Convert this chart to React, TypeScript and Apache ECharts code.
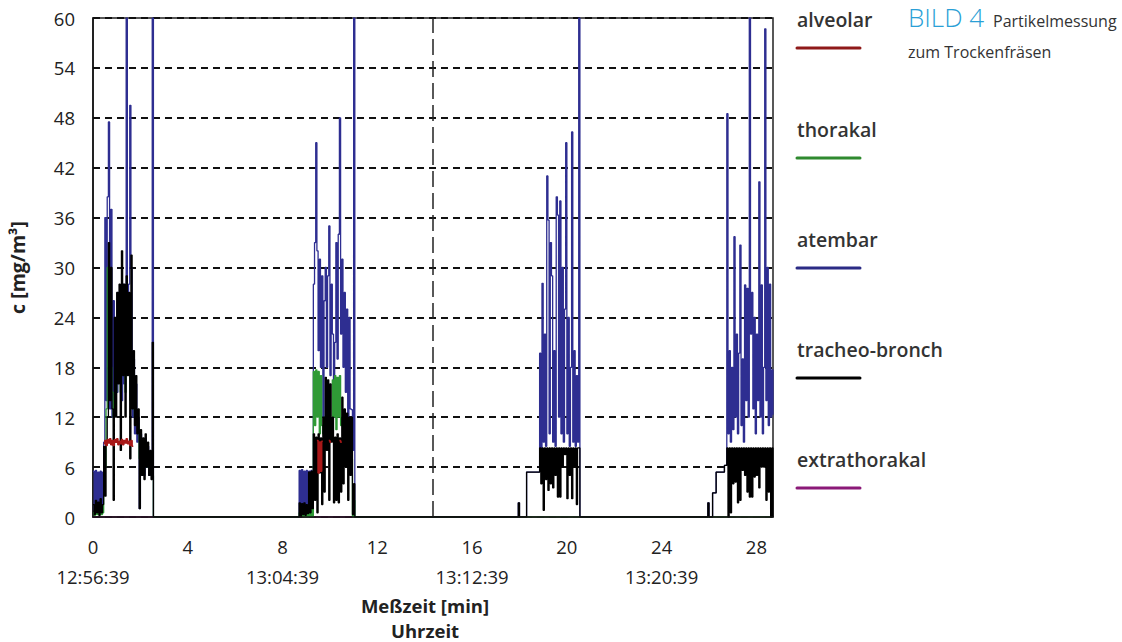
import { useEffect, useRef } from 'react';
import * as echarts from 'echarts';

// ---------- labels ----------
const seriesNames = ['alveolar', 'thorakal', 'atembar', 'tracheo-bronch', 'extrathorakal'];
const seriesColors = ['#a81818', '#2f9a36', '#2e2e91', '#000000', '#8a1f7c'];
const legendLineColors = ['#8f1a1a', '#2f8a2f', '#2b2b85', '#000000', '#8b1a78'];

const clockTickMinutes = [0, 8, 16, 24];
const clockTickLabels = ['12:56:39', '13:04:39', '13:12:39', '13:20:39'];
const sessionBreakMinute = 14.35;

const titleMain = 'BILD 4';
const titleSub1 = 'Partikelmessung';
const titleSub2 = 'zum Trockenfräsen';
const yAxisName = 'c [mg/m³]';
const xAxisName = 'Meßzeit [min]';
const clockAxisName = 'Uhrzeit';

// ---------- data: burst 1 ----------
const burst1Times = [0, 0.05, 0.1, 0.15, 0.2, 0.25, 0.3, 0.35, 0.4, 0.45, 0.5, 0.55, 0.6, 0.65, 0.7, 0.75, 0.8, 0.85, 0.9, 0.95,
  1, 1.05, 1.1, 1.15, 1.2, 1.25, 1.3, 1.35, 1.4, 1.45, 1.5, 1.55, 1.6, 1.65, 1.7, 1.75, 1.8, 1.85, 1.9, 1.95,
  2, 2.05, 2.1, 2.15, 2.2, 2.25, 2.3, 2.35, 2.4, 2.45, 2.5, 2.55];
const burst1Atembar = [5.5, 0.8, 5.6, 1.2, 5.4, 0.6, 5.5, 1.0, 5.4, 9, 36, 14, 38.5, 47.5, 13, 37, 12, 26, 12.5, 24,
  15, 27, 18, 26, 14, 28, 16, 27, 60, 20, 28, 49.5, 30, 12, 19, 10, 16, 9, 12, 1,
  10, 5, 9, 5, 9.5, 6, 8.5, 5, 7.5, 5, 60, 0];
const burst1Tracheo = [1.5, 0.3, 2.0, 0.5, 1.8, 0.2, 2.2, 0.5, 1.5, 8.5, 2.5, 9, 12, 33, 14, 30, 13, 2, 24, 12,
  27, 16, 28, 8, 32, 17, 28, 12, 29, 17, 27, 7, 31.5, 13, 20, 11, 17, 10, 13, 1,
  10.5, 5, 9.5, 4.5, 10, 6, 9, 5, 8, 4.5, 21, 0];
const burst1Thorakal = [0.5, 0.2, 0.6, 0.3, 0.5, 0.2, 0.6, 0.3, 0.5, 5, 6, 13, 30, 18, 20, 18, 15, 12, 14, 15,
  18, 18, 18, 15, 18.5, 19, 19, 15, 19, 19, 18, 14, 14, 14, 13, 12, 12, 11, 11, 7,
  7, 6, 6, 6, 7, 7, 6, 6, 5.5, 5.5, 5, 0];
const burst1Alveolar = [null, null, null, null, null, null, null, null, null, 8.8, 9.2, 8.6, 9.3, 8.9, 9.4, 8.7, 9.2, 8.6, 9.3, 9.0,
  9.4, 8.7, 9.1, 8.8, 9.3, 8.7, 9.2, 8.9, 9.4, 8.8, 9.1, 8.6, 9.2, 8.5, null, null, null, null, null, null,
  null, null, null, null, null, null, null, null, null, null, null, null];

// ---------- data: burst 2 ----------
const burst2Times = [8.7, 8.75, 8.8, 8.85, 8.9, 8.95, 9, 9.05, 9.1, 9.15, 9.2, 9.25, 9.3, 9.35, 9.4, 9.45, 9.5, 9.55, 9.6, 9.65,
  9.7, 9.75, 9.8, 9.85, 9.9, 9.95, 10, 10.05, 10.1, 10.15, 10.2, 10.25, 10.3, 10.35, 10.4, 10.45, 10.5, 10.55, 10.6, 10.65,
  10.7, 10.75, 10.8, 10.85, 10.9, 10.95, 11, 11.05];
const burst2Atembar = [5.6, 0.5, 5.7, 1.0, 5.5, 0.8, 5.6, 1.2, 5.5, 2.0, 5.6, 3.0, 28, 33, 45, 32, 20, 31, 18, 29,
  12, 26, 30, 18, 29, 35, 17, 28, 22, 12, 21, 33, 19, 34, 48, 22, 31, 18, 27, 15,
  25, 12, 24, 13, 12.9, 8, 60, 0];
const burst2Tracheo = [1.7, 0, 1.6, 0.3, 1.7, 0.2, 1.5, 0.4, 5.4, 0.5, 5.5, 1.0, 10, 2, 9.6, 0.5, 10, 5.3, 9.5, 1.5,
  12, 3, 16.8, 8, 16.5, 2, 16, 9, 12, 1.7, 9.6, 2, 10, 1.7, 9.5, 3, 14.4, 4, 13, 6,
  12.5, 2, 12, 5, 12, 0.3, 4, 0];
const burst2Thorakal = [0.5, 0, 0.5, 0, 0.5, 0, 0.5, 0, 1, 0, 1, 0, 17.5, 11, 17.7, 12, 17.5, 10, 17, 11,
  10, 12, 12, 10, 11, 12, 10, 11, 16.5, 12, 17, 10.5, 16.8, 12, 17, 11, 12, 9, 10, 8,
  9, 7, 8, 6, 7, 0, 2, 0];
const burst2Alveolar = [null, null, null, null, null, null, null, null, null, null, null, null, null, null, null, 9.2, 5.3, 9.0, 5.5, 9.1,
  null, null, null, null, null, 9.2, 9.0, null, null, null, null, null, null, null, 9.2, 9.0, null, null, null, null,
  null, null, null, null, null, null, null, null];

// ---------- data: burst 3 ----------
const burst3Times = [17.9, 17.95, 18, 18.3, 18.85, 18.9, 18.95, 19, 19.05, 19.1, 19.15, 19.2, 19.25, 19.3, 19.35, 19.4, 19.45, 19.5, 19.55, 19.6,
  19.65, 19.7, 19.75, 19.8, 19.85, 19.9, 19.95, 20, 20.05, 20.1, 20.15, 20.2, 20.25, 20.3, 20.35, 20.4, 20.45, 20.5, 20.55];
const burst3Atembar = [0, 1.7, 0, 5.4, 19.7, 8, 28.1, 9, 22, 8.5, 41, 35.7, 10, 33, 29, 9, 20, 8.5, 38.5, 36.3,
  12, 38, 10, 30, 9, 25, 45, 10, 24, 8.5, 18, 46.3, 9, 20, 8.5, 17, 9, 60, 0];
const burst3Tracheo = [0, 1.7, 0, 5.4, 8.3, 4, 8.3, 0.8, 8.3, 4.5, 8.3, 3.2, 8.3, 4, 8.3, 3.5, 8.3, 5, 8.3, 2.4,
  8.3, 2.4, 8.3, 6, 8.3, 7.5, 8.3, 2.2, 8.3, 5, 8.3, 2.2, 8.3, 6, 8.3, 1.5, 8.3, 8.3, 0];

// ---------- data: burst 4 ----------
const burst4Times = [25.9, 25.95, 26, 26.15, 26.3, 26.65, 26.75, 26.8, 26.85, 26.9, 26.95, 27, 27.05, 27.1, 27.15, 27.2, 27.25, 27.3, 27.35, 27.4,
  27.45, 27.5, 27.55, 27.6, 27.65, 27.7, 27.75, 27.8, 27.85, 27.9, 27.95, 28, 28.05, 28.1, 28.15, 28.2, 28.25, 28.3, 28.35, 28.4,
  28.45, 28.5, 28.55, 28.6, 28.65, 28.7];
const burst4Atembar = [0, 1.7, 0, 2.9, 5.4, 6.2, 48.5, 10, 20, 9, 18, 10.5, 33.7, 12, 22, 10, 19.7, 32.7, 11, 19,
  9, 27.9, 14, 27.5, 12, 60, 22, 27, 13, 24, 10, 22, 14, 40.3, 12, 27.9, 10, 18, 58.7, 14,
  30, 11, 28, 12, 17.7, 12.3];
const burst4Tracheo = [0, 1.7, 0, 2.9, 5.4, 6.2, 8.3, 0, 8.3, 0.5, 8.3, 4, 8.3, 4.2, 8.3, 1.7, 8.3, 2, 8.3, 5.6,
  8.3, 5, 8.3, 3, 8.3, 2.4, 8.3, 2.4, 8.3, 4.8, 8.3, 5, 8.3, 3.5, 8.3, 6, 8.3, 6, 8.3, 2,
  8.3, 3, 8.3, 0, 8.3, 0];

// quiet stretches (thorakal in bursts 3/4, extrathorakal throughout)
const thorakalLateTimes = [17.9, 28.7];
const thorakalLateValues = [0, 0];
const extrathorakalTimes = [0, 28.7];
const extrathorakalValues = [0, 0];

const zip = (times: number[], values: (number | null)[]) =>
  times.map((t, i) => [t, values[i] === null || values[i] === undefined ? '-' : values[i]]);

const atembarData = [
  ...zip(burst1Times, burst1Atembar), ...zip(burst2Times, burst2Atembar),
  ...zip(burst3Times, burst3Atembar), ...zip(burst4Times, burst4Atembar),
];
const tracheoData = [
  ...zip(burst1Times, burst1Tracheo), ...zip(burst2Times, burst2Tracheo),
  ...zip(burst3Times, burst3Tracheo), ...zip(burst4Times, burst4Tracheo),
];
const thorakalData = [
  ...zip(burst1Times, burst1Thorakal), ...zip(burst2Times, burst2Thorakal),
  ...zip(thorakalLateTimes, thorakalLateValues),
];
const alveolarData = [...zip(burst1Times, burst1Alveolar), ...zip(burst2Times, burst2Alveolar)];
const extrathorakalData = zip(extrathorakalTimes, extrathorakalValues);

const tickFont = "'Open Sans', 'Noto Sans', sans-serif";
const textFont = "'Open Sans', 'Noto Sans', sans-serif";
const tickSize = 18.5;

export default function App() {
  const ref = useRef<HTMLDivElement>(null);

  useEffect(() => {
    document.body.style.margin = '0';
    if (!ref.current) return;
    const chart = echarts.init(ref.current, undefined, { renderer: 'svg' });

    const mkLine = (idx: number, data: any[], extra: any = {}) => ({
      type: 'line',
      name: seriesNames[idx],
      data,
      step: 'end',
      symbol: 'none',
      showSymbol: false,
      silent: true,
      connectNulls: false,
      lineStyle: { color: seriesColors[idx], width: 1.3 },
      itemStyle: { color: seriesColors[idx] },
      ...extra,
    });

    const legendGraphics: any[] = [];
    seriesNames.forEach((name, i) => {
      const ty = 19 + i * 110;
      legendGraphics.push({
        type: 'text', x: 797, y: ty,
        style: { text: name, fill: '#333', fontSize: 19.5, fontWeight: 600, fontFamily: textFont, verticalAlign: 'middle', align: 'left' },
      });
      legendGraphics.push({
        type: 'line', shape: { x1: 797, y1: ty + 29, x2: 860, y2: ty + 29 },
        style: { stroke: legendLineColors[i], lineWidth: 3, lineCap: 'round' },
      });
    });

    const nameStyle = {
      fontWeight: 'bold', fontSize: 18.5, lineHeight: 19, color: '#222', fontFamily: textFont,
      padding: [0, 16, 0, 0],
    };

    const option: any = {
      animation: false,
      grid: {
        left: 93, top: 18, width: 680, height: 499, show: true, borderColor: '#222', borderWidth: 1.5,
        backgroundColor: 'transparent', containLabel: false, outerBoundsMode: 'none',
      },
      xAxis: [
        {
          type: 'value', min: 0, max: 28.7, interval: 4, z: 10,
          axisLine: { show: true, onZero: false, lineStyle: { color: '#111', width: 1.5 } },
          axisTick: { show: false },
          splitLine: { show: false },
          axisLabel: {
            margin: 20, fontSize: tickSize, color: '#222', fontFamily: tickFont,
            formatter: (v: number) => (Math.abs(v % 4) < 1e-6 ? String(v) : ''),
          },
          name: xAxisName, nameLocation: 'middle', nameGap: 79,
          nameTextStyle: nameStyle,
        },
        {
          type: 'value', position: 'bottom', offset: 30, min: 0, max: 28.7, interval: 4,
          axisLine: { show: false }, axisTick: { show: false }, splitLine: { show: false },
          axisLabel: {
            margin: 20, fontSize: tickSize, color: '#222', fontFamily: tickFont,
            formatter: (v: number) => {
              const i = clockTickMinutes.indexOf(v);
              return i >= 0 ? clockTickLabels[i] : '';
            },
          },
          name: clockAxisName, nameLocation: 'middle', nameGap: 74,
          nameTextStyle: nameStyle,
        },
      ],
      yAxis: {
        type: 'value', min: 0, max: 60, interval: 6,
        axisLine: { show: true, lineStyle: { color: '#111', width: 1.5 } },
        axisTick: { show: false },
        axisLabel: { margin: 18, fontSize: tickSize, color: '#222', fontFamily: tickFont },
        splitLine: { show: true, lineStyle: { color: '#111', type: [7, 5], width: 2 } },
        name: yAxisName, nameLocation: 'middle', nameGap: 66, nameRotate: 90,
        nameTextStyle: { fontWeight: 'bold', fontSize: 19.5, color: '#222', fontFamily: textFont },
      },
      series: [
        mkLine(4, extrathorakalData, {
          markLine: {
            silent: true, symbol: ['none', 'none'], label: { show: false },
            lineStyle: { color: '#222', type: [16, 6], width: 1.5 },
            data: [{ xAxis: sessionBreakMinute }],
          },
        }),
        mkLine(2, atembarData),
        mkLine(1, thorakalData),
        mkLine(3, tracheoData),
        mkLine(0, alveolarData, { lineStyle: { color: seriesColors[0], width: 1.6 } }),
      ],
      graphic: [
        ...legendGraphics,
        {
          type: 'text', x: 908, y: 17,
          style: { text: titleMain, fill: '#2a9fd6', fontSize: 26, fontWeight: 300, fontFamily: textFont, verticalAlign: 'middle' },
        },
        {
          type: 'text', x: 993, y: 21,
          style: { text: titleSub1, fill: '#333', fontSize: 16, fontFamily: textFont, verticalAlign: 'middle' },
        },
        {
          type: 'text', x: 908, y: 52,
          style: { text: titleSub2, fill: '#333', fontSize: 16, fontFamily: textFont, verticalAlign: 'middle' },
        },
      ],
    };

    chart.setOption(option);
    return () => chart.dispose();
  }, []);

  return <div ref={ref} style={{ width: 1122, height: 642 }} />;
}
